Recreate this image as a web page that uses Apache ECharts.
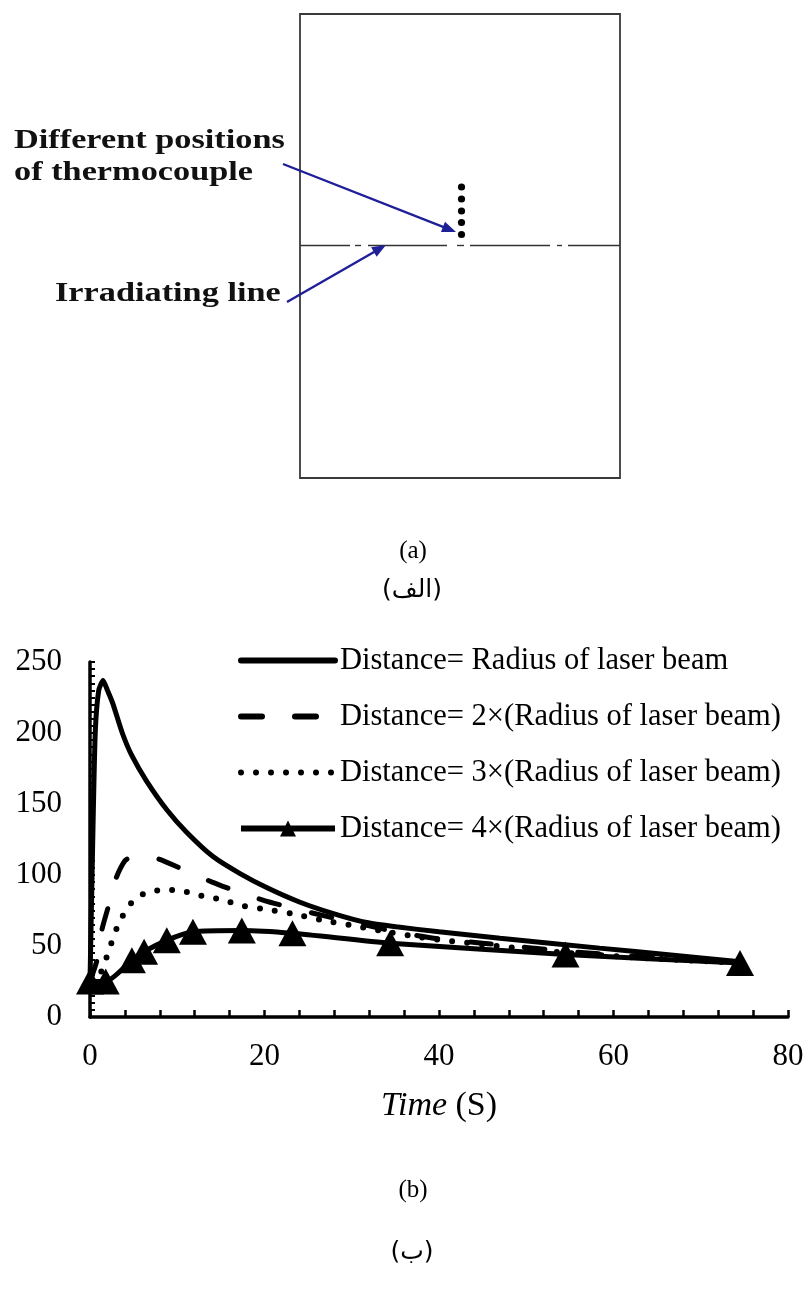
<!DOCTYPE html>
<html>
<head>
<meta charset="utf-8">
<script src="https://cdn.jsdelivr.net/npm/echarts@6/dist/echarts.min.js"></script>
<style>
html,body{margin:0;padding:0;background:#fff;}
#main{width:807px;height:1296px;}
</style>
</head>
<body>
<div id="main"></div>
<script>
// ---- Data (time in s, temperature) ----
const seriesNames = [
  'Distance= Radius of laser beam',
  'Distance= 2×(Radius of laser beam)',
  'Distance= 3×(Radius of laser beam)',
  'Distance= 4×(Radius of laser beam)'
];
const dist1 = [[0,25],[0.3,120],[0.6,200],[1.0,230],[1.5,237],[2.0,230],[2.6,221],[3.7,200],[4.8,184],[6.5,166],[8.8,146],[11.1,130],[14.1,113],[17.2,101],[20.3,91],[24,81],[27.8,73],[31.7,66.5],[35.1,63.5],[40,60],[47,55.5],[58.4,48.5],[66,44],[74.5,39]];
const dist2 = [[0,25],[0.8,40],[1.3,60],[2.3,82],[3,98],[4,110],[4.8,113],[6,114],[8,111],[11,103],[14,95],[17,88],[20,82],[23,77],[27,71],[30,67],[35,60],[40,55],[45,52],[50,49],[55,46],[62,43],[74.5,38]];
const dist3 = [[0,25],[1.3,32],[1.9,42],[2.5,53],[3.1,63],[4,74],[5.1,83],[6.6,88],[8.6,89.5],[10.5,89],[12.2,86],[14.1,84],[16,81],[17.7,78],[20,76],[23,73],[26.7,68],[30.5,64],[34,60],[38,56],[45,51],[55,45],[65,41],[74.5,38]];
const dist4 = [[0,25],[1.8,25],[4.8,40],[6.2,46],[8.8,54],[11.8,60],[17.4,61],[23.2,59],[34.4,52],[54.5,44],[74.5,38]];
const xTitle = 'Time';
const xUnit = ' (S)';
const thermoDots = [187, 199, 211, 222.5, 234.5];

const SERIF = '"Liberation Serif", "Times New Roman", serif';
const chart = echarts.init(document.getElementById('main'), null, {renderer: 'canvas'});

const navy = '#1f1f98';
function arrowHead(x1, y1, x2, y2, len, half) {
  const dx = x2 - x1, dy = y2 - y1, L = Math.sqrt(dx*dx + dy*dy);
  const ux = dx / L, uy = dy / L, px = -uy, py = ux;
  const bx = x2 - ux*len, by = y2 - uy*len;
  return [[x2, y2], [bx + px*half, by + py*half], [bx - px*half, by - py*half]];
}
const a1 = [283, 164, 456, 232];
const a2 = [287, 302, 386, 245];
const centerSegs = [[300,350],[355,361],[368,447],[457,464],[470,550],[557,562],[568,620]];

const boldFont = 'bold 27px ' + SERIF;
const graphics = [
  {type:'rect', shape:{x:300, y:14, width:320, height:464}, style:{fill:'none', stroke:'#3a3a3a', lineWidth:1.8}},
  ...centerSegs.map(s => ({type:'line', shape:{x1:s[0], y1:245.5, x2:s[1], y2:245.5}, style:{stroke:'#333', lineWidth:1.4}})),
  ...thermoDots.map(y => ({type:'circle', shape:{cx:461.5, cy:y, r:3.6}, style:{fill:'#000'}})),
  {type:'line', shape:{x1:a1[0], y1:a1[1], x2:a1[2]-6, y2:a1[3]-2.4}, style:{stroke:navy, lineWidth:2.4}},
  {type:'polygon', shape:{points:arrowHead(a1[0],a1[1],a1[2],a1[3],14,5.5)}, style:{fill:navy}},
  {type:'line', shape:{x1:a2[0], y1:a2[1], x2:a2[2]-5, y2:a2[3]+3}, style:{stroke:navy, lineWidth:2.4}},
  {type:'polygon', shape:{points:arrowHead(a2[0],a2[1],a2[2],a2[3],14,5.5)}, style:{fill:navy}},
  {type:'text', x:14, y:141, scaleX:1.27, style:{text:'Different positions', font:boldFont, fill:'#111', textVerticalAlign:'middle'}},
  {type:'text', x:14, y:173, scaleX:1.27, style:{text:'of thermocouple', font:boldFont, fill:'#111', textVerticalAlign:'middle'}},
  {type:'text', x:55, y:294, scaleX:1.27, style:{text:'Irradiating line', font:boldFont, fill:'#111', textVerticalAlign:'middle'}},
  {type:'text', x:413, y:551, style:{text:'(a)', font:'25px ' + SERIF, fill:'#000', textAlign:'center', textVerticalAlign:'middle'}},
  {type:'text', x:412, y:590, style:{text:'(الف)', font:'25px "DejaVu Sans", sans-serif', fill:'#000', textAlign:'center', textVerticalAlign:'middle'}},
  {type:'text', x:413, y:1190, style:{text:'(b)', font:'25px ' + SERIF, fill:'#000', textAlign:'center', textVerticalAlign:'middle'}},
  {type:'text', x:412, y:1252, style:{text:'(ب)', font:'25px "DejaVu Sans", sans-serif', fill:'#000', textAlign:'center', textVerticalAlign:'middle'}}
];

const lineBase = {type:'line', symbol:'none', smooth:0.2, clip:false, z:3};
const option = {
  animation: false,
  backgroundColor: '#fff',
  grid: {left:90, right:19, top:662, bottom:279, containLabel:false},
  legend: {
    orient: 'vertical', left: 238, top: 645, padding: 0, itemWidth: 94, itemHeight: 20, itemGap: 25,
    selectedMode: false,
    textStyle: {fontFamily: SERIF, fontSize: 30.5, color: '#000'},
    lineStyle: {width: 6},
    data: [
      {name: seriesNames[0], itemStyle: {opacity: 0}},
      {name: seriesNames[1], itemStyle: {opacity: 0}},
      {name: seriesNames[2], itemStyle: {opacity: 0}},
      {name: seriesNames[3]}
    ]
  },
  xAxis: {
    type: 'value', min: 0, max: 80, interval: 20,
    name: '{i|' + xTitle + '}{n|' + xUnit + '}', nameLocation: 'middle', nameGap: 72,
    nameTextStyle: {rich: {i: {fontFamily: SERIF, fontStyle: 'italic', fontSize: 34, color:'#000'}, n: {fontFamily: SERIF, fontSize: 34, color:'#000'}}},
    axisLine: {show: true, lineStyle: {color: '#000', width: 3.5}},
    axisTick: {show: true, inside: true, length: 7, lineStyle: {color: '#000', width: 2.5}},
    minorTick: {show: true, splitNumber: 5, length: 7, lineStyle: {color: '#000', width: 2.5}},
    axisLabel: {fontFamily: SERIF, fontSize: 31, color: '#000', margin: 24},
    splitLine: {show: false}
  },
  yAxis: {
    type: 'value', min: 0, max: 250, interval: 50,
    axisLine: {show: true, lineStyle: {color: '#000', width: 3.5}},
    axisTick: {show: true, inside: true, length: 5, lineStyle: {color: '#000', width: 2}},
    minorTick: {show: true, splitNumber: 10, length: 5, lineStyle: {color: '#000', width: 2}},
    axisLabel: {fontFamily: SERIF, fontSize: 31, color: '#000', margin: 28},
    splitLine: {show: false}
  },
  graphic: graphics,
  series: [
    Object.assign({}, lineBase, {name: seriesNames[0], data: dist1, itemStyle:{color:'#000'}, lineStyle: {color: '#000', width: 5, cap: 'round'}}),
    Object.assign({}, lineBase, {name: seriesNames[1], data: dist2, itemStyle:{color:'#000'}, lineStyle: {color: '#000', width: 5, type: [21, 33], cap: 'round'}}),
    Object.assign({}, lineBase, {name: seriesNames[2], data: dist3, itemStyle:{color:'#000'}, lineStyle: {color: '#000', width: 6, type: [0, 15], cap: 'round'}}),
    Object.assign({}, lineBase, {name: seriesNames[3], data: dist4, symbol: 'triangle', symbolSize: [28, 26], showSymbol: true, itemStyle: {color: '#000'}, lineStyle: {color: '#000', width: 5}})
  ]
};
chart.setOption(option);
</script>
</body>
</html>
